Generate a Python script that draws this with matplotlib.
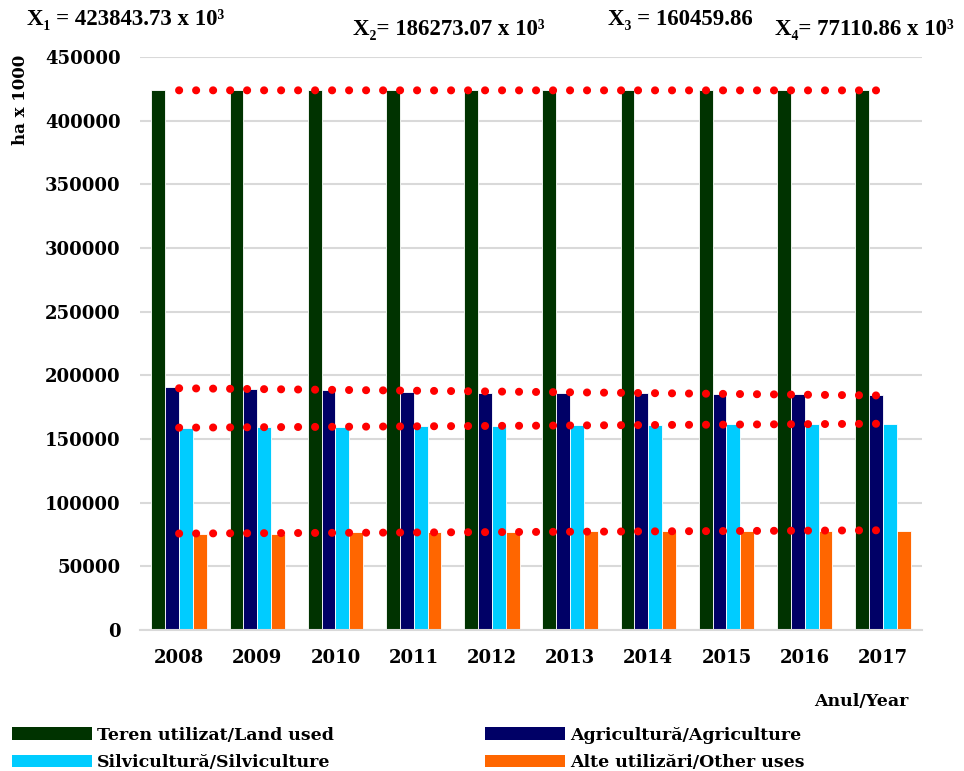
import numpy as np
import matplotlib.pyplot as plt
from matplotlib.patches import Patch
from matplotlib.transforms import Bbox

years = ['2008', '2009', '2010', '2011', '2012', '2013', '2014', '2015', '2016', '2017']
land_used = [423900, 423850, 423850, 423800, 423850, 423850, 423800, 423850, 423850, 423800]
agriculture = [191000, 189600, 188300, 187200, 186500, 185800, 186200, 185500, 185200, 184800]
silviculture = [158500, 159300, 159700, 160200, 160400, 160700, 161000, 161400, 161600, 161800]
other_uses = [75200, 75600, 76800, 77000, 77200, 77400, 77600, 77400, 78000, 78000]

labels = ['Teren utilizat/Land used', 'Agricultură/Agriculture',
          'Silvicultură/Silviculture', 'Alte utilizări/Other uses']
colors = ['#003300', '#000066', '#00CCFF', '#FF6600']
means = ['X\u2081 = 423843.73 x 10\u00b3', 'X\u2082= 186273.07 x 10\u00b3',
         'X\u2083 = 160459.86 x 10\u00b3', 'X\u2084= 77110.86 x 10\u00b3']

series = [land_used, agriculture, silviculture, other_uses]
x = np.arange(len(years))
w = 0.177

fig = plt.figure(figsize=(9.64, 7.71), dpi=100)
ax = fig.add_axes([0.1452, 0.1829, 0.9564 - 0.1452, 0.926 - 0.1829])

for i, s in enumerate(series):
    ax.bar(x + (i - 1.5) * w, s, width=w, color=colors[i], edgecolor='white', linewidth=0.6, zorder=2)

# linear trend lines
xt = np.linspace(0, 9.0, 50)
for s in series:
    k, b = np.polyfit(x, s, 1)
    ax.plot(xt, k * xt + b, color='red', linewidth=5.8, linestyle=(0, (0.01, 2.1)),
            dash_capstyle='round', zorder=3)

ax.set_xlim(-0.5, 9.5)
ax.set_ylim(0, 450000)
ax.set_yticks(np.arange(0, 450001, 50000))
ax.grid(axis='y', color='#d9d9d9', linewidth=1.5, zorder=0)
ax.set_axisbelow(True)
for sp in ['left', 'right', 'top']:
    ax.spines[sp].set_visible(False)
ax.spines['bottom'].set_color('#d9d9d9')
ax.spines['bottom'].set_linewidth(1.5)
ax.tick_params(axis='both', length=0, labelsize=13)
ax.tick_params(axis='y', pad=14)
ax.tick_params(axis='x', pad=14)
ax.set_xticks(x)
ax.set_xticklabels(years)
for t in ax.get_xticklabels() + ax.get_yticklabels():
    t.set_fontfamily('DejaVu Serif')
    t.set_fontweight('bold')

fig.text(0.021, 0.87, 'ha x 1000', rotation=90, ha='center', va='center',
         fontsize=12, fontweight='bold', family='DejaVu Serif')
fig.text(908 / 964, 1 - 701 / 771, 'Anul/Year', ha='right', va='center',
         fontsize=12.5, fontweight='bold', family='DejaVu Serif')

hdr_font = dict(fontsize=16.5, fontweight='bold', family=['Liberation Serif', 'DejaVu Serif'])
fig.text(27 / 964, 1 - 19 / 771, means[0], ha='left', va='center', **hdr_font)
fig.text(353 / 964, 1 - 30 / 771, means[1], ha='left', va='center', **hdr_font)
t3 = fig.text(608 / 964, 1 - 20 / 771, means[2], ha='left', va='center', **hdr_font)
t3.set_clip_box(Bbox.from_extents(600, 0, 752, 771))
t3.set_clip_on(True)
fig.text(775 / 964, 1 - 30 / 771, means[3], ha='left', va='center', **hdr_font)

# legend filled row-wise like the original
order = [0, 2, 1, 3]
handles = [Patch(facecolor=colors[i]) for i in order]
leg = fig.legend(handles, [labels[i] for i in order], ncol=2, loc='upper left',
                 bbox_to_anchor=(-0.004, 1 - 711 / 771),
                 frameon=False, handlelength=4.6, handleheight=0.75, handletextpad=0.3,
                 columnspacing=8.7, labelspacing=0.6, borderaxespad=0.5,
                 prop=dict(family='DejaVu Serif', weight='bold', size=12.5))

fig.savefig('out.png', dpi=100)
